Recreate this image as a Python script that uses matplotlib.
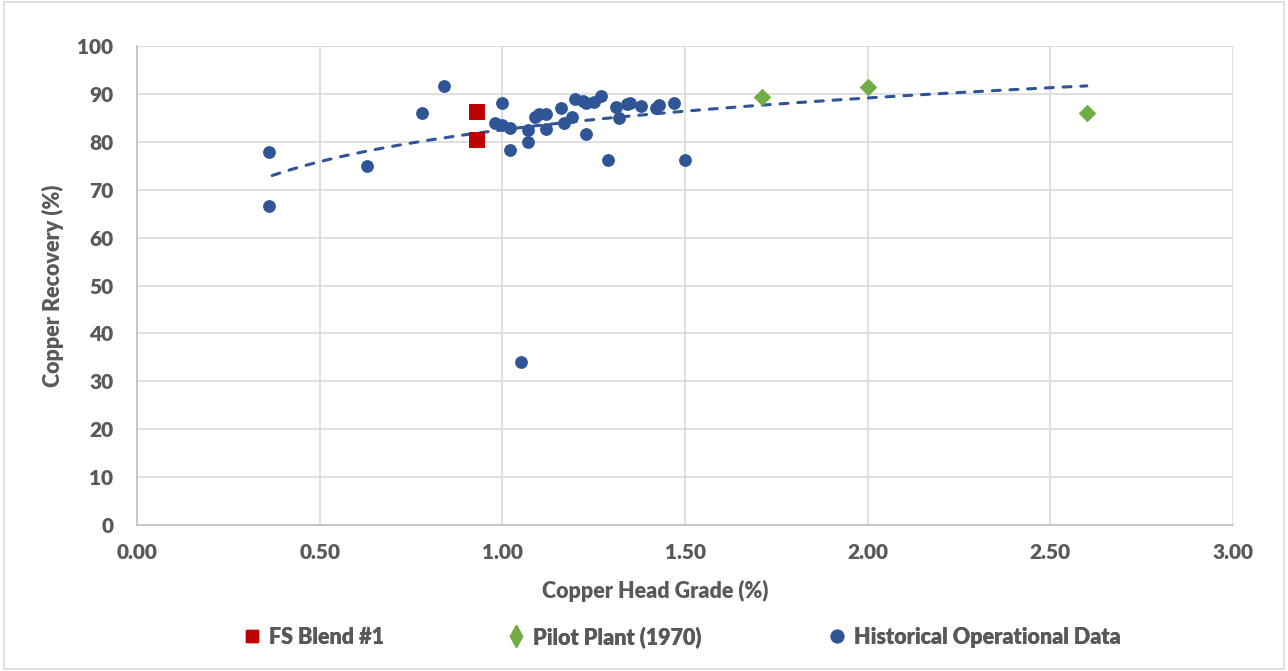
import numpy as np
import matplotlib.pyplot as plt
from matplotlib.lines import Line2D

plt.rcParams['font.family'] = ['Lato', 'DejaVu Sans']
W = 'heavy'

# FS Blend #1
fs_grade = [0.93, 0.93]
fs_rec = [86.3, 80.4]

# Pilot Plant (1970)
pilot_grade = [1.71, 2.00, 2.60]
pilot_rec = [89.4, 91.4, 86.0]

# Historical Operational Data
hist_grade = [0.36, 0.36, 0.63, 0.78, 0.84, 0.98, 1.00, 1.00, 1.02, 1.02, 1.05,
              1.07, 1.07, 1.09, 1.10, 1.12, 1.12, 1.16, 1.17, 1.19, 1.20, 1.22,
              1.23, 1.23, 1.25, 1.27, 1.29, 1.31, 1.32, 1.34, 1.35, 1.38, 1.42,
              1.43, 1.47, 1.50]
hist_rec = [77.9, 66.6, 74.9, 86.0, 91.6, 84.0, 88.2, 83.5, 82.8, 78.3, 34.0,
            82.5, 79.9, 85.2, 85.9, 85.8, 82.6, 87.0, 83.9, 85.2, 88.9, 88.6,
            88.0, 81.6, 88.4, 89.6, 76.2, 87.2, 84.9, 87.8, 88.2, 87.5, 87.0,
            87.7, 88.2, 76.2]

# logarithmic trend line (y = a + b*ln x)
trend_a, trend_b = 82.5, 9.6
trend_range = [0.37, 2.60]

blue = '#2F5597'
red = '#C00000'
green = '#70AD47'
txt = '#595959'

fig = plt.figure(figsize=(12.88, 6.71), dpi=100)
ax = fig.add_axes([137 / 1288, 1 - 525 / 671, (1233 - 137) / 1288, (525 - 46) / 671])

tx = np.linspace(trend_range[0], trend_range[1], 200)
ax.plot(tx, trend_a + trend_b * np.log(tx), color=blue, lw=2.2, ls=(0, (2.6, 3.2)),
        dash_capstyle='round', zorder=2)

ax.scatter(hist_grade, hist_rec, s=85, color=blue, marker='o', zorder=3, linewidths=0)
ax.scatter(fs_grade, fs_rec, s=140, color=red, marker='s', zorder=4, linewidths=0)
ax.scatter(pilot_grade, pilot_rec, s=80, color=green, marker='D', zorder=4, linewidths=0)

ax.set_xlim(0, 3)
ax.set_ylim(0, 100)
xt = np.arange(0, 3.01, 0.5)
ax.set_xticks(xt)
ax.set_xticklabels([f'{v:.2f}' for v in xt])
ax.set_yticks(range(0, 101, 10))
ax.grid(True, color='#D9D9D9', lw=1.2, zorder=0)
ax.set_axisbelow(True)
for s in ['top', 'right']:
    ax.spines[s].set_visible(False)
for s in ['left', 'bottom']:
    ax.spines[s].set_color('#BFBFBF')
    ax.spines[s].set_linewidth(1.2)
ax.tick_params(length=0, colors=txt)
ax.tick_params(axis='x', pad=13)
ax.tick_params(axis='y', pad=17)
for lab in ax.get_xticklabels() + ax.get_yticklabels():
    lab.set_fontweight(W)
    lab.set_fontsize(15)

ax.set_xlabel('Copper Head Grade (%)', fontsize=15.5, fontweight=W, color=txt)
ax.xaxis.set_label_coords((655 - 137) / (1233 - 137), -(580 - 525) / (525 - 46))
ax.set_ylabel('Copper Recovery (%)', fontsize=15.5, fontweight=W, color=txt)
ax.yaxis.set_label_coords(-(137 - 64) / (1233 - 137), 0.5)

# legend entries placed one by one below the plot
leg_items = [
    (Line2D([], [], ls='', marker='s', color=red, markersize=9), 'FS Blend #1', 241),
    (Line2D([], [], ls='', marker='d', color=green, markersize=11), 'Pilot Plant (1970)', 505),
    (Line2D([], [], ls='', marker='o', color=blue, markersize=9), 'Historical Operational Data', 826),
]
for handle, label, xpix in leg_items:
    lg = fig.legend([handle], [label], loc='center left', frameon=False,
                    bbox_to_anchor=(xpix / 1288, 1 - 637 / 671), borderpad=0,
                    borderaxespad=0, handlelength=1.0, handletextpad=0.3,
                    prop={'weight': W, 'size': 15.5})
    for t in lg.get_texts():
        t.set_color(txt)
    fig.add_artist(lg)

fig.patches.append(plt.Rectangle((0.003, 0.003), 0.994, 0.994, transform=fig.transFigure,
                                 fill=False, edgecolor='#D9D9D9', lw=1.2))

fig.savefig('out.png', dpi=100)
